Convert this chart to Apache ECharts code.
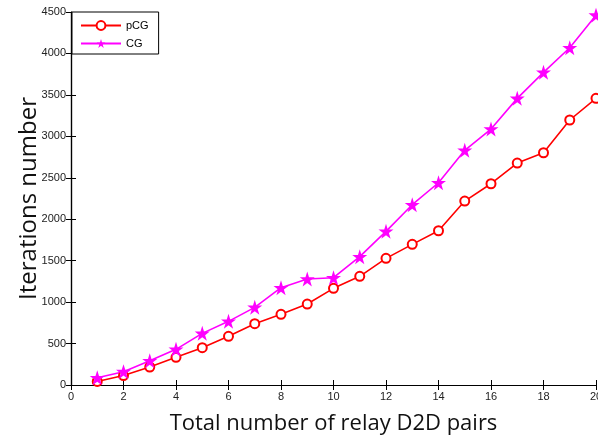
<!DOCTYPE html>
<html>
<head>
<meta charset="utf-8">
<script src="https://cdn.jsdelivr.net/npm/echarts@6/dist/echarts.min.js"></script>
<style>html,body{margin:0;padding:0;background:#fff;}#c{width:598px;height:436px;}</style>
</head>
<body>
<div id="c"></div>
<script>
var xValues = [1,2,3,4,5,6,7,8,9,10,11,12,13,14,15,16,17,18,19,20];
var pCG = [43,114,217,334,450,587,740,853,977,1166,1311,1528,1697,1861,2219,2428,2678,2802,3197,3458];
var CG = [88,161,293,430,623,768,937,1174,1278,1294,1548,1854,2175,2440,2831,3088,3458,3772,4069,4462];
var seriesNames = ['pCG','CG'];
var xLabel = 'Total number of relay D2D pairs';
var yLabel = 'Iterations number';

function pairs(ys){ return xValues.map(function(x,i){ return [x, ys[i]]; }); }

var star = 'path://M50,0 L61.2,34.5 L97.6,34.5 L68.2,55.9 L79.4,90.5 L50,69.1 L20.6,90.5 L31.8,55.9 L2.4,34.5 L38.8,34.5 Z';
var tickFont = {fontFamily:'Liberation Sans, Arial, sans-serif', fontSize:11, color:'#222'};
var axisLine = {show:true, lineStyle:{color:'#000', width:1.2}};
var tick = {show:true, inside:true, length:5, lineStyle:{color:'#000', width:1}};
function plain(v){ return String(v); }

var chart = echarts.init(document.getElementById('c'), null, {renderer:'canvas'});
chart.setOption({
  animation:false,
  backgroundColor:'#fff',
  grid:{left:71, right:2, top:12, bottom:51, containLabel:false, outerBoundsMode:'none'},
  legend:{
    left:72, top:12, orient:'vertical',
    data:seriesNames,
    backgroundColor:'#fff',
    borderColor:'#000', borderWidth:1, borderRadius:0,
    padding:[8,10,5,8],
    itemGap:7, itemWidth:40, itemHeight:11,
    textStyle:{fontFamily:'Liberation Sans, Arial, sans-serif', fontSize:11, color:'#000'}
  },
  xAxis:[
    {type:'value', min:0, max:20, interval:2, position:'bottom',
     axisLine:axisLine, axisTick:tick, splitLine:{show:false},
     axisLabel:Object.assign({margin:6, formatter:plain}, tickFont),
     name:xLabel, nameLocation:'middle', nameGap:28, nameMoveOverlap:false,
     nameTextStyle:{fontFamily:'Open Sans, sans-serif', fontSize:22, color:'#111'}},
    {type:'value', min:0, max:20, interval:2, position:'top',
     axisLine:axisLine, axisTick:tick, splitLine:{show:false}, axisLabel:{show:false}}
  ],
  yAxis:[
    {type:'value', min:0, max:4500, interval:500, position:'left',
     axisLine:axisLine, axisTick:tick, splitLine:{show:false},
     axisLabel:Object.assign({margin:5, formatter:plain}, tickFont),
     name:yLabel, nameLocation:'middle', nameGap:30, nameRotate:90, nameMoveOverlap:false,
     nameTextStyle:{fontFamily:'Open Sans, sans-serif', fontSize:24, color:'#111'}},
    {type:'value', min:0, max:4500, interval:500, position:'right',
     axisLine:axisLine, axisTick:tick, splitLine:{show:false}, axisLabel:{show:false}}
  ],
  series:[
    {name:seriesNames[0], type:'line', data:pairs(pCG),
     symbol:'emptyCircle', symbolSize:9,
     lineStyle:{color:'#ff0000', width:1.6},
     itemStyle:{color:'#ff0000', borderColor:'#ff0000', borderWidth:1.6}},
    {name:seriesNames[1], type:'line', data:pairs(CG),
     symbol:star, symbolSize:15,
     lineStyle:{color:'#ff00ff', width:1.6},
     itemStyle:{color:'#ff00ff', borderColor:'#ff00ff', borderWidth:0}}
  ]
});
</script>
</body>
</html>
